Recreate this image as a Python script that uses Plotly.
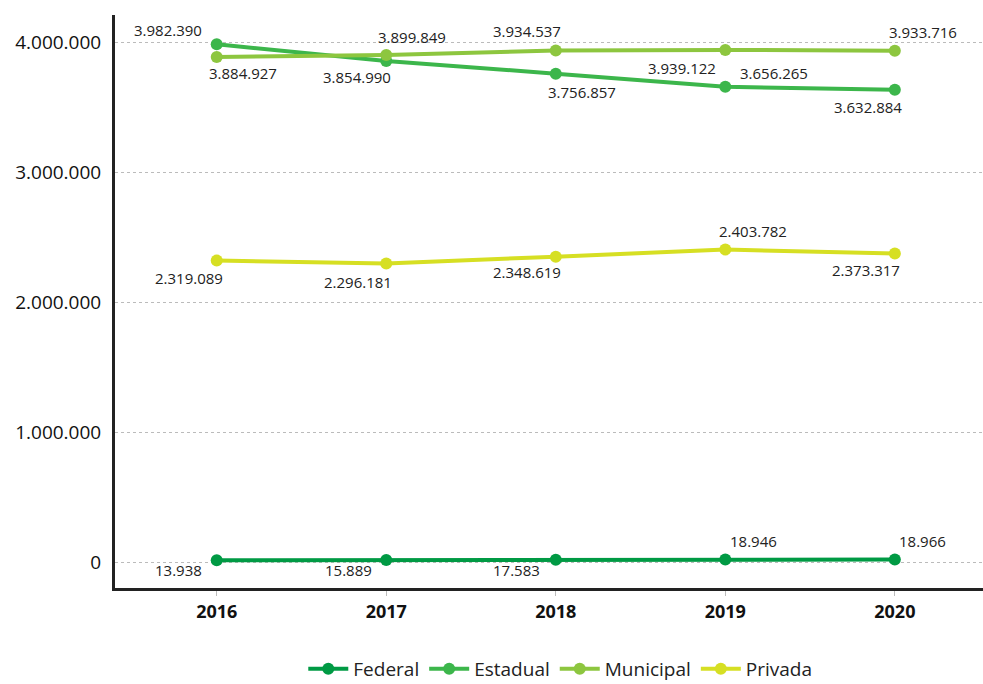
import plotly.graph_objects as go

years = ["2016", "2017", "2018", "2019", "2020"]
federal = [13938, 15889, 17583, 18946, 18966]
estadual = [3982390, 3854990, 3756857, 3656265, 3632884]
municipal = [3884927, 3899849, 3934537, 3939122, 3933716]
privada = [2319089, 2296181, 2348619, 2403782, 2373317]
y_ticks = [0, 1000000, 2000000, 3000000, 4000000]

series = [
    ("Federal", federal, "#009a44"),
    ("Estadual", estadual, "#3cb64b"),
    ("Municipal", municipal, "#8dc63f"),
    ("Privada", privada, "#d6df23"),
]

# label offsets in pixels (dx right, dy down) relative to each point
offsets = {
    "Federal": [(-38, 11), (-38, 11), (-39, 11), (28, -18), (28, -18)],
    "Estadual": [(-49, -13), (-29, 17), (26, 19), (49, -13), (-27, 18)],
    "Municipal": [(26, 17), (26, -17), (-29, -19), (-43, 19), (28, -18)],
    "Privada": [(-28, 18), (-28, 19), (-29, 16), (28, -18), (-29, 18)],
}


def fmt(v):
    return f"{v:,}".replace(",", ".")


fig = go.Figure()
for name, vals, color in series:
    fig.add_trace(go.Scatter(
        x=years, y=vals, name=name, mode="lines+markers",
        line=dict(color=color, width=4),
        marker=dict(color=color, size=12),
    ))

annotations = []
for name, vals, color in series:
    for i, v in enumerate(vals):
        dx, dy = offsets[name][i]
        annotations.append(dict(
            x=i, y=v, xref="x", yref="y", text=fmt(v), showarrow=False,
            xanchor="center", yanchor="middle",
            xshift=dx, yshift=-dy + 1,
            font=dict(family="Open Sans", size=15, color="#222222"),
        ))

fig.update_layout(
    width=983, height=684,
    margin=dict(l=115, r=0, t=15, b=96),
    paper_bgcolor="white", plot_bgcolor="white",
    showlegend=True,
    legend=dict(
        orientation="h", x=0.513, xanchor="center",
        yref="container", y=0.05, yanchor="top",
        font=dict(family="Open Sans", size=19, color="#222222"),
        itemwidth=40,
    ),
    annotations=annotations,
    xaxis=dict(
        type="category", range=[-0.6, 4.52], automargin=False,
        showline=True, linecolor="#222222", linewidth=3,
        showgrid=False, zeroline=False,
        ticks="outside", ticklen=5, tickcolor="#bbbbbb", tickwidth=1,
        tickfont=dict(family="Open Sans", size=18, color="#111111", weight="bold"),
    ),
    yaxis=dict(
        range=[-200000, 4208000], automargin=False,
        tickvals=y_ticks, ticktext=[fmt(v) for v in y_ticks],
        showline=True, linecolor="#222222", linewidth=3,
        showgrid=True, gridcolor="#bbbbbb", griddash="dot", gridwidth=1,
        zeroline=False, ticks="", ticklabelstandoff=7,
        tickfont=dict(family="Open Sans", size=19, color="#111111"),
    ),
)

fig.write_html(
    "out.html",
    config={"displayModeBar": False},
    post_script="document.body.style.margin='0';document.body.style.overflow='hidden';",
)
